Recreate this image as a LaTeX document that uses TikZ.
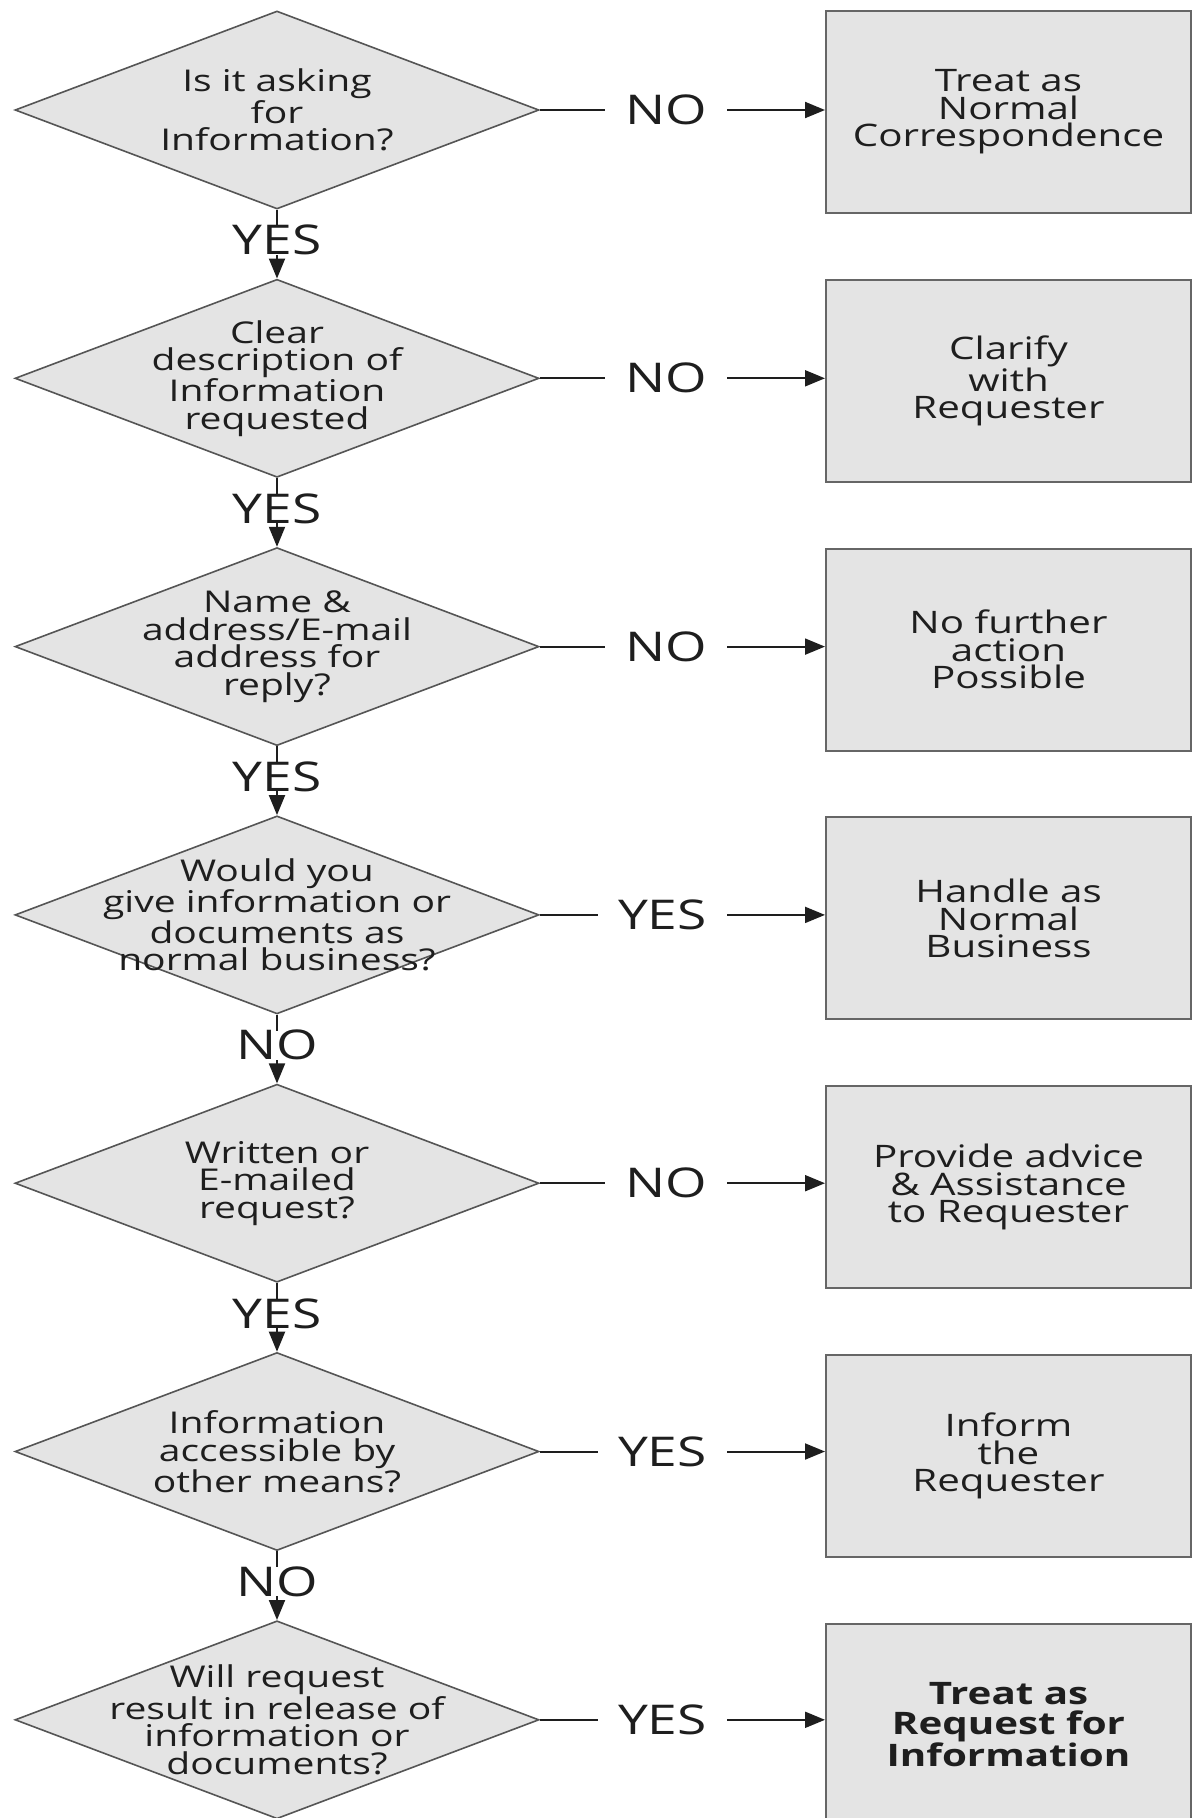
\documentclass[tikz,border=0pt]{standalone}
\usepackage{fontspec}
\setmainfont{Open Sans}[FakeStretch=1.3]
\usetikzlibrary{shapes.geometric,arrows.meta}
\definecolor{boxfill}{HTML}{E4E4E4}
\definecolor{edgec}{HTML}{555555}
\definecolor{boxedge}{HTML}{666666}
\definecolor{ink}{HTML}{1E1E1E}
\begin{document}
\begin{tikzpicture}[x=1pt,y=-1pt,
  dia/.style={shape=diamond, draw=edgec, fill=boxfill, line width=1.6pt,
    minimum width=524pt, minimum height=198pt, inner sep=0pt},
  dtext/.style={align=center, font=\fontsize{30}{27.5}\selectfont, text=ink, inner sep=0pt},
  proc/.style={rectangle, draw=boxedge, fill=boxfill, line width=2pt,
    minimum width=365pt, minimum height=202pt, align=center,
    font=\fontsize{31}{27.5}\selectfont, text=ink},
  procbold/.style={proc, font=\fontsize{31}{29.5}\selectfont\bfseries},
  conn/.style={draw=ink, line width=2pt, -{Triangle[length=20pt,width=16pt]}},
  lab/.style={fill=white, text height=29pt, text depth=0pt,
    font=\fontsize{41}{41}\selectfont, text=ink},
  hlab/.style={lab, anchor=east, inner xsep=20pt, inner ysep=0pt},
  vlab/.style={lab, inner sep=0pt}]
\useasboundingbox (0,0) rectangle (1193,1818);

% decisions
\node[dia] (d1) at (277,110.0) {};
\node[dia] (d2) at (277,378.3) {};
\node[dia] (d3) at (277,646.6) {};
\node[dia] (d4) at (277,914.9) {};
\node[dia] (d5) at (277,1183.2) {};
\node[dia] (d6) at (277,1451.5) {};
\node[dia] (d7) at (277,1719.8) {};

\node[dtext] (t1) at (d1) {Is it asking\\for\\Information?};
\node[dtext] (t2) at (d2) {Clear\\description of\\Information\\requested};
\node[dtext] (t3) at (d3) {Name \&\\address/E-mail\\address for\\reply?};
\node[dtext] (t4) at (d4) {Would you\\give information or\\documents as\\normal business?};
\node[dtext] (t5) at (d5) {Written or\\E-mailed\\request?};
\node[dtext] (t6) at (d6) {Information\\accessible by\\other means?};
\node[dtext] (t7) at (d7) {Will request\\result in release of\\information or\\documents?};

% outcome boxes
\node[proc] (b1) at (1008.5,112.0) {Treat as\\Normal\\Correspondence};
\node[proc] (b2) at (1008.5,380.8) {Clarify\\with\\Requester};
\node[proc] (b3) at (1008.5,649.6) {No further\\action\\Possible};
\node[proc] (b4) at (1008.5,918.4) {Handle as\\Normal\\Business};
\node[proc] (b5) at (1008.5,1187.2) {Provide advice\\\& Assistance\\to Requester};
\node[proc] (b6) at (1008.5,1456.0) {Inform\\the\\Requester};
\node[procbold] (b7) at (1008.5,1724.8) {Treat as\\Request for\\Information};

% horizontal connectors
\foreach \i/\t in {1/NO,2/NO,3/NO,4/YES,5/NO,6/YES,7/YES}{
  \draw[conn] (d\i.east) -- (d\i.east -| b\i.west);
  \node[hlab] (h\i) at (727,0 |- d\i.east) {\t};
}

% vertical connectors
\foreach \i/\j/\t in {1/2/YES,2/3/YES,3/4/YES,4/5/NO,5/6/YES,6/7/NO}{
  \draw[conn] (d\i.south) -- (d\j.north);
  \node[vlab] (v\i) at ([yshift=-30.5pt]d\i.south) {\t};
}
\end{tikzpicture}
\end{document}
